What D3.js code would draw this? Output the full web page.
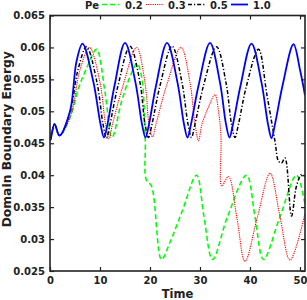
<!DOCTYPE html>
<html><head><meta charset="utf-8">
<script src="https://cdn.jsdelivr.net/npm/d3@7"></script>
<style>body{margin:0;background:#fff}svg{display:block}text{font-family:"DejaVu Sans",sans-serif;font-weight:bold;fill:#222}</style>
</head><body><svg id="c" width="307" height="300"></svg>
<script>
const xTicks=[0,10,20,30,40,50];
const yTicks=[0.025,0.03,0.035,0.04,0.045,0.05,0.055,0.06,0.065];
const yTickLabels=["0.025","0.03","0.035","0.04","0.045","0.05","0.055","0.06","0.065"];
const legendNames=["0.2","0.3","0.5","1.0"];

const t10=[0,0.05,0.9,1.9,4.0,5.3,6.5,8.7,10.1,10.8,11.5,12.9,15.0,17.1,18.4,19.1,19.8,21.2,23.4,25.5,26.8,27.5,28.2,29.7,32.0,34.0,35.2,35.9,36.6,38.1,40.3,42.3,43.6,44.3,45.0,46.5,48.7,50.0,51];
const v10=[0.0555,0.0455,0.048,0.0462,0.050,0.0578,0.0606,0.0545,0.048,0.0459,0.048,0.054,0.0607,0.0545,0.048,0.0459,0.048,0.054,0.0607,0.0545,0.048,0.0459,0.048,0.054,0.0607,0.0545,0.048,0.0459,0.048,0.054,0.0606,0.0545,0.048,0.0458,0.048,0.054,0.0605,0.0565,0.0525];

const t05=[0,0.05,0.9,1.9,4.0,5.6,7.3,9.4,10.6,11.3,12.0,13.6,16.0,18.0,19.0,19.7,20.4,22.0,24.4,26.4,27.6,28.3,29.0,30.7,33.3,35.2,36.3,37.0,37.7,39.3,41.7,43.4,45.0,45.7,46.3,47.0,48.3,49.3,50.3,51];
const v05=[0.0555,0.0455,0.048,0.0462,0.0498,0.0565,0.0601,0.0545,0.048,0.0458,0.048,0.054,0.0602,0.0545,0.048,0.0459,0.048,0.054,0.0602,0.0545,0.048,0.0459,0.048,0.054,0.0601,0.0545,0.048,0.0459,0.048,0.054,0.0597,0.0525,0.0453,0.0422,0.0419,0.0427,0.0336,0.0383,0.0401,0.0398];

const t03=[0,0.05,0.9,1.9,4.2,6.0,7.9,10.0,11.1,11.8,12.5,14.6,17.3,19.0,19.8,20.5,21.2,23.3,26.2,28.0,29.0,29.7,30.4,31.6,33.0,33.7,34.2,34.35,35.7,37.4,39.0,41.5,44.0,46.0,48.0,51];
const v03=[0.0555,0.0455,0.048,0.0462,0.0495,0.0565,0.060,0.0545,0.048,0.0457,0.048,0.054,0.060,0.0545,0.048,0.046,0.048,0.054,0.060,0.0545,0.048,0.0454,0.048,0.0505,0.0526,0.050,0.046,0.0383,0.0398,0.0332,0.0265,0.0335,0.0403,0.0335,0.0267,0.034];

const t02=[0,0.05,0.9,1.9,4.0,5.7,7.3,9.3,11.0,12.4,14.3,16.0,17.4,18.3,19.05,19.25,20.3,22.3,24.0,26.5,29.3,30.8,32.5,35.5,39.3,41.0,42.7,46.0,49.3,51];
const v02=[0.0555,0.0455,0.048,0.0462,0.049,0.0536,0.0567,0.0597,0.053,0.0459,0.0515,0.0554,0.0575,0.0555,0.0455,0.0393,0.0383,0.0268,0.0295,0.0345,0.040,0.0335,0.0268,0.0335,0.040,0.0335,0.0268,0.0335,0.040,0.0354];

const svg=d3.select("#c");
const L=50,R=305,T=15.5,B=271;
const x=d3.scaleLinear().domain([0,51]).range([L,R]);
const y=d3.scaleLinear().domain([0.025,0.065]).range([B,T]);

svg.append("defs").append("clipPath").attr("id","clip").append("rect")
  .attr("x",L).attr("y",T).attr("width",R-L).attr("height",B-T);

const series=[
 {t:t02,v:v02,color:"#00ff00",w:1.6,dash:"5,3"},
 {t:t03,v:v03,color:"#ff0000",w:1.1,dash:"1.2,1"},
 {t:t05,v:v05,color:"#000000",w:1.5,dash:"4,2,1.2,2"},
 {t:t10,v:v10,color:"#0000ff",w:1.8,dash:null}
];
const line=d3.line().x(d=>x(d[0])).y(d=>y(d[1])).curve(d3.curveCatmullRom.alpha(0.5));
const g=svg.append("g").attr("clip-path","url(#clip)");
series.forEach(s=>{
  g.append("path").datum(s.t.map((t,i)=>[t,s.v[i]]))
   .attr("d",line).attr("fill","none").attr("stroke",s.color)
   .attr("stroke-width",s.w).attr("stroke-dasharray",s.dash);
});

const fmt=d=>yTickLabels[yTicks.indexOf(d)];
const ax=svg.append("g").attr("transform",`translate(0,${B})`)
  .call(d3.axisBottom(x).tickValues(xTicks).tickSizeInner(-4).tickSizeOuter(0).tickPadding(6));
const ay=svg.append("g").attr("transform",`translate(${L},0)`)
  .call(d3.axisLeft(y).tickValues(yTicks).tickFormat(fmt).tickSizeInner(-4).tickSizeOuter(0).tickPadding(5));
const at=svg.append("g").attr("transform",`translate(0,${T})`)
  .call(d3.axisTop(x).tickValues(xTicks).tickSizeInner(-4).tickSizeOuter(0).tickFormat(""));
const ar=svg.append("g").attr("transform",`translate(${R},0)`)
  .call(d3.axisRight(y).tickValues(yTicks).tickSizeInner(-4).tickSizeOuter(0).tickFormat(""));
[ax,ay,at,ar].forEach(a=>{
  a.select(".domain").remove();
  a.selectAll("line").attr("stroke","#222").attr("stroke-width",1.2);
  a.selectAll("text").attr("font-size",10).attr("font-family","DejaVu Sans").attr("font-weight","bold").attr("fill","#222");
});
svg.append("rect").attr("x",L).attr("y",T).attr("width",R-L).attr("height",B-T)
  .attr("fill","none").attr("stroke","#222").attr("stroke-width",1.6);

svg.append("text").attr("x",(L+R)/2).attr("y",298).attr("text-anchor","middle").attr("font-size",11.5).text("Time");
svg.append("text").attr("transform",`translate(11,${(T+B)/2 - 4}) rotate(-90)`).attr("text-anchor","middle").attr("font-size",12.3).text("Domain Boundary Energy");

const lg=svg.append("g");
lg.append("text").attr("x",85).attr("y",8.5).attr("font-size",10).text("Pe");
const lx=[102,146,188,231];
const tx=[125,168,210,253];
series.forEach((s,i)=>{
  lg.append("line").attr("x1",lx[i]).attr("x2",lx[i]+17).attr("y1",4.5).attr("y2",4.5)
    .attr("stroke",s.color).attr("stroke-width",s.w).attr("stroke-dasharray",s.dash);
  lg.append("text").attr("x",tx[i]).attr("y",8.5).attr("font-size",10).text(legendNames[i]);
});
</script></body></html>
